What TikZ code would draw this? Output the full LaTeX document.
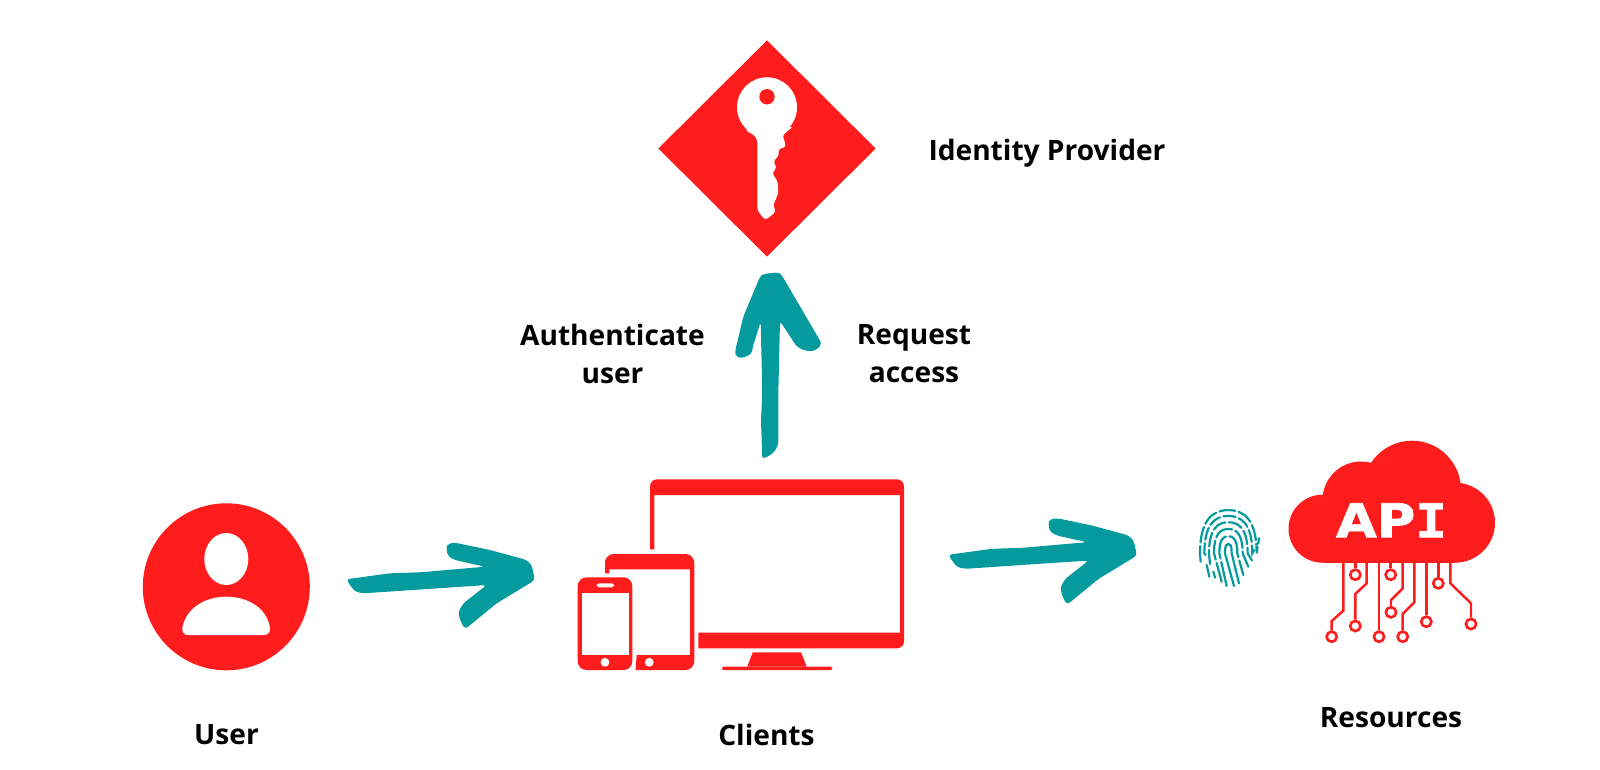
\documentclass[tikz,border=0pt]{standalone}
\usepackage{fontspec}
\setmainfont{Open Sans}
\newfontfamily\apifont[BoldFeatures={FakeBold=1.5}]{DejaVu Sans}
\newfontfamily\apislab[BoldFeatures={FakeBold=1.5}]{DejaVu Sans Mono}
\usetikzlibrary{positioning}
\usetikzlibrary{shapes.geometric}
\definecolor{brandred}{RGB}{255,28,28}
\definecolor{brandteal}{RGB}{5,154,158}
\tikzset{
	label/.style={font=\fontsize{16}{21.6}\selectfont\bfseries,align=center,text=black},
	trace/.style={draw=brandred,line width=1.4pt},
	pad/.style={circle,draw=brandred,fill=white,line width=1.5pt,minimum size=5.8pt,inner sep=0pt},
	ridge/.style={draw=brandteal,line width=1.25pt,line cap=round},
	pics/handarrow/.style={code={
		\fill [brandteal,rounded corners=2] (0,0) -- (44,-6) -- (74,-7) -- (139,-12.6) -- (109,-19.3) -- (102.3,-22.6) -- (100,-31) -- (102.3,-36) -- (109,-36.6) -- (144,-29.3) -- (180.7,-19.3) -- (185.7,-14.3) -- (189,0.7) -- (150.7,24) -- (119,50) -- (114,40.7) -- (112.3,32.4) -- (117.3,24) -- (140.7,5.7) -- (17.3,14) -- (9,12.4) -- cycle;
	}}
}

\begin{document}
\begin{tikzpicture}[x=0.02cm,y=-0.02cm]
	\useasboundingbox (0,0) rectangle (1600,769);

	\node [diamond,fill=brandred,minimum width=217.5*0.02cm,minimum height=216.5*0.02cm,inner sep=0pt] (idp) at (767,148.5) {};
	\fill [white] (767,107.3) circle [radius=30];
	\fill [white,rounded corners=1.5] (745,130) -- (793,126.7) -- (782.7,135) -- (786,146.7) -- (778.3,149.3) -- (779,155) -- (773.3,161.7) -- (776.7,167.3) -- (772.3,173.3) -- (777.7,181.7) -- (778.3,193.3) -- (773.3,205) -- (775.7,211.7) -- (766.7,219.3) -- (763.3,218.3) -- (757.3,210) -- (757.3,140) -- (754,135) -- cycle;
	\fill [brandred] (767,96.7) circle [radius=7.7];
	\node [label] (idplabel) at (1047,153.5) {Identity Provider};

	\fill [brandteal,rounded corners=2] (762.3,459.3) -- (761,420) -- (762.3,393.3) -- (760.7,321.7) -- (752.7,346.7) -- (751.7,354) -- (741.7,358.3) -- (736,356.7) -- (735,351.7) -- (743.3,316.7) -- (760,276.7) -- (763.3,274) -- (778.3,272.3) -- (781.7,275) -- (822,344) -- (815,351) -- (806,351) -- (797,347) -- (780,321) -- (778.3,393) -- (778.3,445) -- (773.3,453.3) -- cycle;
	\node [label] (authlabel) at (612.5,354) {Authenticate\\user};
	\node [label] (requestlabel) at (914,354) {Request\\access};

	\fill [brandred] (226.3,586.8) circle [radius=83.5];
	\fill [white] (226.3,559) ellipse [x radius=22,y radius=26];
	\fill [white] (188,635) .. controls (184,635) and (182,632) .. (182.3,628) .. controls (186,608) and (205,596.7) .. (226.3,596.7) .. controls (248,596.7) and (267,608) .. (270,628) .. controls (270.3,632) and (268,635) .. (264,635) -- cycle;
	\node [label] (userlabel) at (226.5,735) {User};

	\coordinate (usertail) at (346,579.3);
	\coordinate (clienttail) at (948,554.8);
	\pic at (usertail) {handarrow};
	\pic at (clienttail) {handarrow};

	\fill [brandred,rounded corners=4] (650,549.3) [sharp corners] -- (650,500) [rounded corners=4] -- (650,479.3) -- (904,479.3) -- (904,648.3) [sharp corners] -- (698.3,648.3) -- (698.3,632.7) -- (900,632.7) -- (900,495) -- (654.3,495) -- (654.3,549.3) -- cycle;
	\fill [brandred] (752.7,652.3) -- (801,652.3) -- (806.7,666.7) -- (747.3,666.7) -- cycle;
	\fill [brandred,rounded corners=1] (721.7,666.7) rectangle (832.7,670);
	\fill [brandred] (605,573.3) -- (605,560) [rounded corners=5] -- (605,554) -- (694.3,554) -- (694.3,670) [sharp corners] -- (635.5,670) -- (636.7,655) -- (690,655) -- (690,569.3) -- (609.3,569.3) -- (609.3,573.3) -- cycle;
	\fill [white] (649.3,662.3) circle [radius=4.4];
	\fill [brandred,rounded corners=5] (577.7,577.3) rectangle (632.3,670);
	\fill [white] (581.7,593.3) rectangle (628.7,655);
	\fill [white,rounded corners=1.5] (596.7,583.3) rectangle (614,587.3);
	\fill [white] (605,662.3) circle [radius=4.4];
	\node [label] (clientlabel) at (766.5,735) {Clients};

	\begin{scope}[shift={(1160,420)},scale=0.3333]
		\foreach \r/\la/\lb/\ra/\rb/\d in {10/222/498/237/490/200,27/200/498/250/465/14,43/185/485/265/440/11,58/150/432/278/425/8,72/137/405/283/390/7,85/122/425/297/355/9} {
			\pgfmathsetmacro{\h}{1.35*\r}
			\draw [ridge,dash pattern=on \d pt off 2pt] (\la,\lb) -- ({205-\r},400) .. controls ({205-\r},{385-0.75*\h}) and ({205-0.55*\r},{385-\h}) .. (205,{385-\h}) .. controls ({205+0.55*\r},{385-\h}) and ({205+\r},{385-0.75*\h}) .. ({205+\r},400) -- (\ra,\rb);
		}
		\draw [ridge] (140,435) -- (148,470);
		\draw [ridge] (160,455) -- (165,473);
	\end{scope}

	\fill [brandred] (1322.5,528.7) circle [radius=34];
	\fill [brandred] (1361,500) circle [radius=38.5];
	\fill [brandred] (1412,489.7) circle [radius=49];
	\fill [brandred] (1455,522.7) circle [radius=40];
	\fill [brandred] (1322.5,500) rectangle (1455,562.7);
	\node [text=white,font=\fontsize{26.5}{27}\selectfont\bfseries,inner sep=0pt,anchor=base] (apilabel) at (1391.5,537.2) {\scalebox{1.13}[1]{\apifont AP\apislab I}};

	\foreach \n/\x/\y in {1/1331.7/636.7,2/1355.3/574.7,3/1355.3/626,4/1379/636.7,5/1390.7/574.7,6/1391/612.3,7/1402.7/636.7,8/1426.3/621.7,9/1438.3/583.3,10/1471/624} {
		\node [pad] (pad\n) at (\x,\y) {};
	}
	\draw [trace] (1343.3,562) -- (1343.3,610.7) -- (1331.7,621) -- (pad1);
	\draw [trace] (1355.3,562) -- (pad2);
	\draw [trace] (1366.7,562) -- (1366.7,583.3) -- (1355.3,594) -- (pad3);
	\draw [trace] (1379,562) -- (pad4);
	\draw [trace] (1390.7,562) -- (pad5);
	\draw [trace] (1402.7,562) -- (1402.7,588.3) -- (1391,600) -- (pad6);
	\draw [trace] (1414.3,562) -- (1414.3,602.3) -- (1402.7,614) -- (pad7);
	\draw [trace] (1426.3,562) -- (pad8);
	\draw [trace] (1438.3,562) -- (pad9);
	\draw [trace] (1450.3,562) -- (1450.3,583.3) -- (1471,603.3) -- (pad10);
	\node [label] (resourcelabel) at (1391,717.5) {Resources};
\end{tikzpicture}
\end{document}
